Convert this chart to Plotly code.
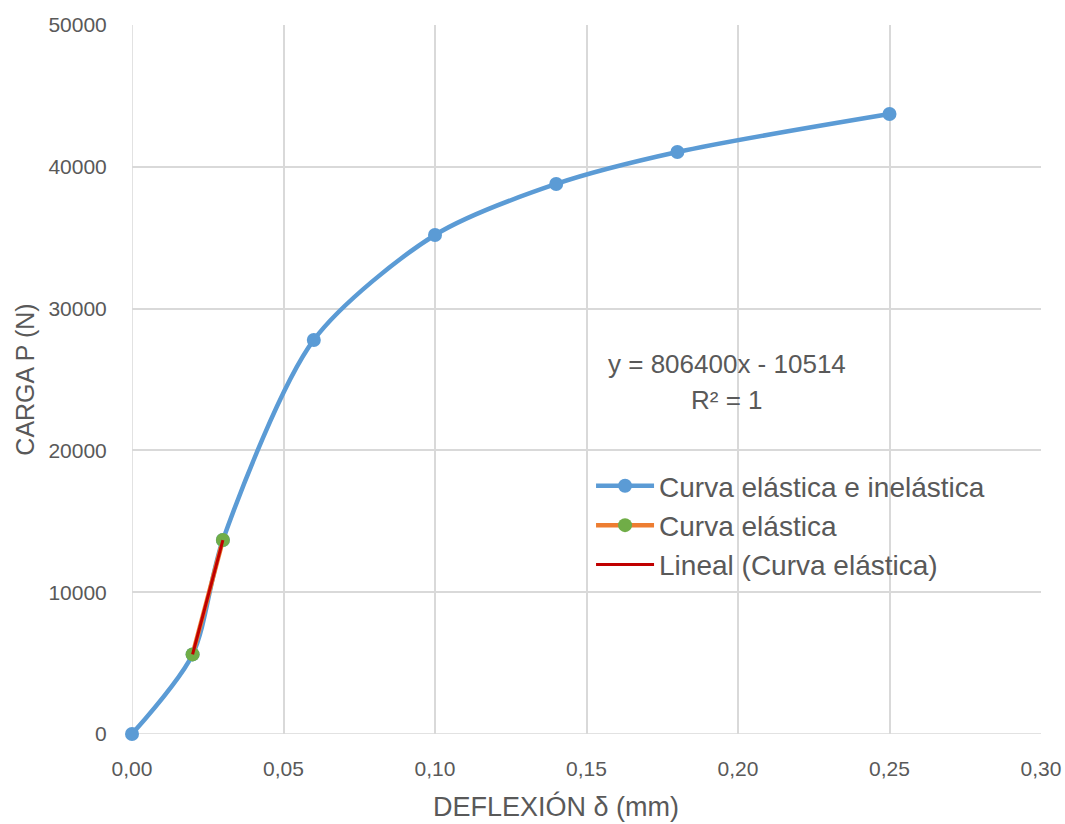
import numpy as np
import plotly.graph_objects as go

# Data
deflexion_total = [0.0, 0.02, 0.03, 0.06, 0.10, 0.14, 0.18, 0.25]
carga_total = [0, 5614, 13678, 27790, 35190, 38790, 41040, 43720]
deflexion_elastica = [0.02, 0.03]
carga_elastica = [5614, 13678]
x_ticks = [0.0, 0.05, 0.10, 0.15, 0.20, 0.25, 0.30]
y_ticks = [0, 10000, 20000, 30000, 40000, 50000]

slope, intercept = np.polyfit(deflexion_elastica, carga_elastica, 1)
trend_x = [min(deflexion_elastica), max(deflexion_elastica)]
trend_y = [slope * v + intercept for v in trend_x]

FONT = "Liberation Sans"
GRAY = "#595959"

fig = go.Figure()
fig.add_trace(go.Scatter(
    x=deflexion_total, y=carga_total, name="Curva elástica e inelástica",
    mode="lines+markers", line=dict(color="#5B9BD5", width=4.5, shape="spline", smoothing=0.8),
    marker=dict(color="#5B9BD5", size=14), cliponaxis=False))
fig.add_trace(go.Scatter(
    x=deflexion_elastica, y=carga_elastica, name="Curva elástica",
    mode="lines+markers", line=dict(color="#ED7D31", width=4.5),
    marker=dict(color="#70AD47", size=14), cliponaxis=False))
fig.add_trace(go.Scatter(
    x=trend_x, y=trend_y, name="Lineal (Curva elástica)",
    mode="lines", line=dict(color="#C00000", width=3)))

fig.add_annotation(x=0.1965, y=26100, xref="x", yref="y", showarrow=False,
                   text="y = 806400x - 10514", font=dict(family=FONT, size=26, color=GRAY))
fig.add_annotation(x=0.1965, y=23550, xref="x", yref="y", showarrow=False,
                   text="R² = 1", font=dict(family=FONT, size=26, color=GRAY))
# x-axis title (offset left of plot centre as in the original)
fig.add_annotation(x=0.4664, y=-0.1016, xref="paper", yref="paper", showarrow=False,
                   xanchor="center", yanchor="middle",
                   text="DEFLEXIÓN δ (mm)", font=dict(family=FONT, size=27, color=GRAY))

fig.update_layout(
    width=1065, height=824,
    margin=dict(l=132, r=24, t=25, b=90),
    paper_bgcolor="white", plot_bgcolor="white",
    separators=",.",
    font=dict(family=FONT, color=GRAY),
    showlegend=True,
    legend=dict(x=0.505, y=0.385, xanchor="left", yanchor="top",
                font=dict(family=FONT, size=28, color=GRAY),
                bgcolor="rgba(0,0,0,0)", tracegroupgap=0, itemwidth=58),
    xaxis=dict(range=[0, 0.30], tickvals=x_ticks, tickformat=".2f",
               showgrid=True, gridcolor="#D9D9D9", gridwidth=1.5,
               zeroline=False, showline=False, ticks="outside", ticklen=16,
               tickcolor="rgba(0,0,0,0)",
               tickfont=dict(size=21, color=GRAY), automargin=False),
    yaxis=dict(range=[0, 50000], tickvals=y_ticks, tickformat="d",
               showgrid=True, gridcolor="#D9D9D9", gridwidth=1.5,
               zeroline=False, showline=False, ticks="outside", ticklen=20,
               tickcolor="rgba(0,0,0,0)",
               tickfont=dict(size=21, color=GRAY), automargin=False,
               title=dict(text="CARGA P (N)", font=dict(size=25, color=GRAY), standoff=6)),
)
# lines at x=0 and y=0 styled like gridlines
fig.add_shape(type="line", xref="x", yref="paper", x0=0, x1=0, y0=0, y1=1,
              line=dict(color="#D9D9D9", width=1.5), layer="below")
fig.add_shape(type="line", xref="paper", yref="y", x0=0, x1=1, y0=0, y1=0,
              line=dict(color="#D9D9D9", width=1.5), layer="below")

fig.write_html("out.html")
